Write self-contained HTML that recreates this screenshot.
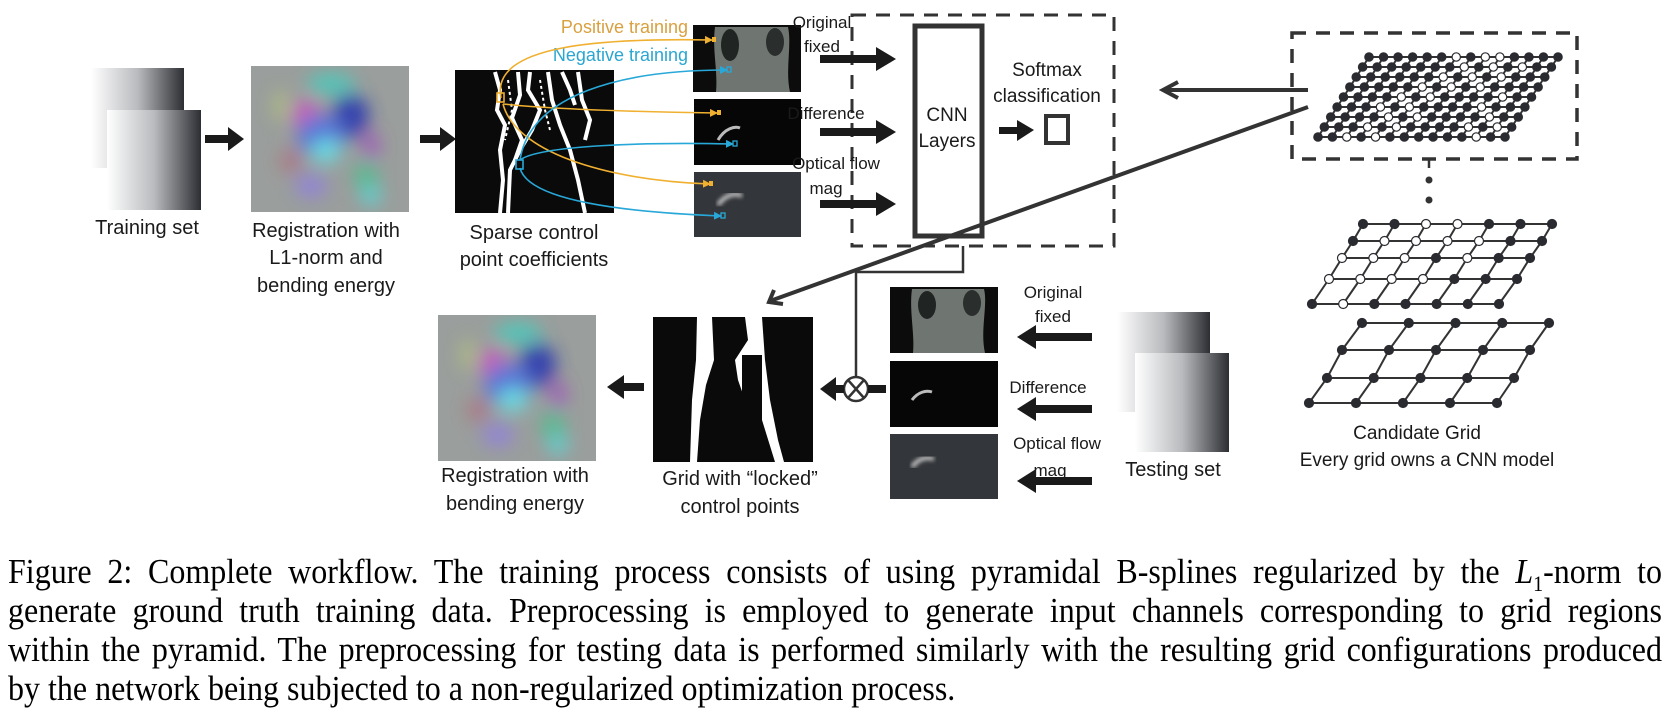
<!DOCTYPE html>
<html><head><meta charset="utf-8">
<style>
html,body{margin:0;padding:0;background:#fff;}
body{width:1672px;height:704px;position:relative;overflow:hidden;}
svg{position:absolute;left:0;top:0;}
.cap{position:absolute;left:8px;width:1654px;font-family:"Liberation Serif",serif;font-size:32px;color:#000;white-space:nowrap;text-align:justify;text-align-last:justify;transform:scaleY(1.1);transform-origin:left center;line-height:38px;height:38px;}
.cap.last{text-align-last:left;}
</style></head><body>
<svg width="1672" height="704" viewBox="0 0 1672 704" xmlns="http://www.w3.org/2000/svg" font-family="Liberation Sans, sans-serif">
<defs>
<linearGradient id="card" x1="0" x2="1" y1="0" y2="0">
<stop offset="0" stop-color="#ffffff"/><stop offset="0.5" stop-color="#b9bbbe"/><stop offset="1" stop-color="#2c2e33"/></linearGradient>
<filter id="blur" x="-20%" y="-20%" width="140%" height="140%"><feGaussianBlur stdDeviation="9"/></filter>
<filter id="blur2"><feGaussianBlur stdDeviation="2"/></filter>
<clipPath id="rc"><rect width="158" height="146"/></clipPath>
<marker id="mo" markerWidth="8" markerHeight="8" refX="7" refY="4" orient="auto" markerUnits="userSpaceOnUse"><path d="M0,0 L8,4 L0,8 Z" fill="#f0b030"/></marker>
<marker id="mc" markerWidth="8" markerHeight="8" refX="7" refY="4" orient="auto" markerUnits="userSpaceOnUse"><path d="M0,0 L8,4 L0,8 Z" fill="#28a8d8"/></marker>
<g id="regimg" clip-path="url(#rc)">
<rect width="158" height="146" fill="#9a9e9c"/>
<g filter="url(#blur)" opacity="0.85">
<ellipse cx="80" cy="18" rx="24" ry="10" fill="#40d0c0"/>
<ellipse cx="55" cy="50" rx="14" ry="16" fill="#d050c0"/>
<ellipse cx="100" cy="50" rx="18" ry="22" fill="#2030b0"/>
<ellipse cx="70" cy="70" rx="24" ry="22" fill="#5070e0"/>
<ellipse cx="75" cy="85" rx="14" ry="12" fill="#60e8f0"/>
<ellipse cx="120" cy="80" rx="8" ry="15" fill="#a050c0"/>
<ellipse cx="40" cy="95" rx="10" ry="12" fill="#b07080"/>
<ellipse cx="115" cy="110" rx="12" ry="15" fill="#50c090"/>
<ellipse cx="60" cy="120" rx="16" ry="12" fill="#9080e0"/>
<ellipse cx="120" cy="130" rx="10" ry="9" fill="#50e0e0"/>
<ellipse cx="30" cy="40" rx="8" ry="16" fill="#b0c080"/>
</g></g>
</defs>

<rect x="91" y="68" width="93" height="100" fill="url(#card)"/>
<rect x="107" y="110" width="94" height="100" fill="url(#card)"/>
<g fill="#1a1a1a">
<rect x="205" y="135" width="25" height="8"/><path d="M228,127 L244,139 L228,151 Z"/>
<rect x="420" y="135" width="22" height="8"/><path d="M440,127 L456,139 L440,151 Z"/>
</g>
<use href="#regimg" x="251" y="66"/>
<rect x="455" y="70" width="159" height="143" fill="#0a0a0a"/>
<g stroke="#fff" fill="none" stroke-width="4">
<path d="M495,72 L500,90 L497,110 L505,125 L500,150 L503,180 L500,213"/>
<path d="M518,72 L520,95 L512,118 L522,140 L515,160"/>
<path d="M530,72 L528,90 L540,110 L532,130 L520,150 L510,170 L508,213"/>
<path d="M548,72 L552,100 L560,125 L570,150 L578,180 L585,213"/>
<path d="M562,72 L570,90 L575,105"/>
<path d="M578,72 L582,100 L590,120 L585,140"/>
</g>
<g stroke="#fff" stroke-width="2" fill="none" stroke-dasharray="3 3">
<path d="M508,80 L512,110 L505,140"/><path d="M540,80 L545,110 L550,130"/>
</g>
<g font-size="20" fill="#1a1a1a" text-anchor="middle">
<text x="147" y="234">Training set</text>
<text x="326" y="237">Registration with</text>
<text x="326" y="264">L1-norm and</text>
<text x="326" y="292">bending energy</text>
<text x="534" y="239">Sparse control</text>
<text x="534" y="266">point coefficients</text>
</g>
<text x="688" y="33" font-size="18" fill="#d9a040" text-anchor="end">Positive training</text>
<text x="688" y="61" font-size="18" fill="#2aa6d0" text-anchor="end">Negative training</text>

<rect x="693" y="25" width="108" height="67" fill="#0c0c0c"/>
<path d="M715,27 C712,50 718,70 716,92 L790,92 C785,70 792,45 788,27 Z" fill="#6f7672"/>
<ellipse cx="730" cy="45" rx="9" ry="16" fill="#202422"/><ellipse cx="775" cy="42" rx="9" ry="14" fill="#2a2e2c"/>
<rect x="694" y="99" width="107" height="66" fill="#060606"/>
<path d="M718,140 C725,128 735,126 740,128" stroke="#bbb" stroke-width="3" fill="none"/>
<rect x="694" y="172" width="107" height="65" fill="#33363a"/>
<path d="M718,205 C725,195 735,192 742,196" stroke="#ccc" stroke-width="4" fill="none" filter="url(#blur2)"/>

<g fill="none" stroke-width="1.6">
<path d="M501,98 C490,45 600,38 712,40" stroke="#f0b030" marker-end="url(#mo)"/>
<path d="M503,104 C560,110 650,112 717,113" stroke="#f0b030" marker-end="url(#mo)"/>
<path d="M503,104 C515,150 600,180 710,184" stroke="#f0b030" marker-end="url(#mo)"/>
<path d="M520,160 C530,95 620,70 727,70" stroke="#28a8d8" marker-end="url(#mc)"/>
<path d="M520,160 C540,145 650,142 733,144" stroke="#28a8d8" marker-end="url(#mc)"/>
<path d="M520,168 C528,200 620,212 721,216" stroke="#28a8d8" marker-end="url(#mc)"/>
</g>
<rect x="497" y="93" width="7" height="9" fill="none" stroke="#f0b030" stroke-width="1.6"/>
<rect x="516" y="160" width="7" height="9" fill="none" stroke="#28a8d8" stroke-width="1.6"/>
<g fill="#f0b030"><rect x="712" y="37" width="4" height="5"/><rect x="717" y="110" width="4" height="5"/><rect x="709" y="181" width="4" height="5"/></g>
<g fill="none" stroke="#28a8d8" stroke-width="1.3"><rect x="727" y="67" width="4" height="5"/><rect x="733" y="141" width="4" height="5"/><rect x="721" y="213" width="4" height="5"/></g>

<rect x="852" y="15" width="262" height="231" fill="none" stroke="#333" stroke-width="3" stroke-dasharray="14 10"/>
<g font-size="17" fill="#1a1a1a" text-anchor="middle">
<text x="822" y="28">Original</text>
<text x="822" y="52">fixed</text>
<text x="826" y="119">Difference</text>
<text x="836" y="169">Optical flow</text>
<text x="826" y="194">mag</text>
</g>
<g fill="#1a1a1a">
<rect x="820" y="55" width="58" height="8"/><path d="M876,47 L896,59 L876,71 Z"/>
<rect x="820" y="128" width="58" height="8"/><path d="M876,120 L896,132 L876,144 Z"/>
<rect x="820" y="200" width="58" height="8"/><path d="M876,192 L896,204 L876,216 Z"/>
</g>
<rect x="915" y="26" width="67" height="210" fill="none" stroke="#333" stroke-width="5"/>
<g font-size="19" fill="#1a1a1a" text-anchor="middle">
<text x="947" y="121">CNN</text><text x="947" y="147">Layers</text>
<text x="1047" y="76">Softmax</text><text x="1047" y="102">classification</text>
</g>
<rect x="999" y="127" width="20" height="7" fill="#1a1a1a"/><path d="M1017,120 L1034,130 L1017,141 Z" fill="#1a1a1a"/>
<rect x="1046" y="116" width="22" height="27" fill="none" stroke="#333" stroke-width="4"/>

<g stroke="#333" stroke-width="4" fill="none">
<line x1="1308" y1="90" x2="1164" y2="90"/>
<path d="M1178,82 L1163,90 L1178,98"/>
<line x1="1308" y1="107" x2="770" y2="301"/>
<path d="M774,290 L769,302 L783,304"/>
</g>

<g stroke="#333" stroke-width="2.5" fill="none">
<polyline points="963,246 963,272 856,272 856,377"/>
<circle cx="856" cy="389" r="12" fill="#fff"/>
<line x1="848" y1="380" x2="864" y2="398"/><line x1="864" y1="380" x2="848" y2="398"/>
</g>
<rect x="868" y="385" width="18" height="8" fill="#1a1a1a"/>
<rect x="832" y="385" width="12" height="8" fill="#1a1a1a"/><path d="M836,377 L820,389 L836,401 Z" fill="#1a1a1a"/>
<use href="#regimg" x="438" y="315"/>
<rect x="622" y="383" width="22" height="8" fill="#1a1a1a"/><path d="M624,375 L607,387 L624,399 Z" fill="#1a1a1a"/>
<rect x="653" y="317" width="160" height="145" fill="#0a0a0a"/>
<g fill="#fff">
<path d="M697,317 L712,317 L714,360 L706,385 L700,420 L697,462 L690,462 L692,400 L696,360 Z"/>
<path d="M745,317 L762,317 L765,360 L770,400 L778,440 L784,462 L775,462 L762,420 L745,400 L738,380 L735,360 L748,340 Z"/>
</g>
<g fill="#0a0a0a"><rect x="742" y="355" width="20" height="107"/></g>
<path d="M715,400 C730,395 735,380 738,380 L745,462 L715,462 Z" fill="#0a0a0a"/>
<g font-size="20" fill="#1a1a1a" text-anchor="middle">
<text x="515" y="482">Registration with</text><text x="515" y="510">bending energy</text>
<text x="740" y="485">Grid with “locked”</text><text x="740" y="513">control points</text>
</g>
<rect x="890" y="287" width="108" height="66" fill="#0c0c0c"/>
<path d="M912,289 C909,310 915,335 913,353 L985,353 C980,330 988,305 984,289 Z" fill="#6f7672"/>
<ellipse cx="927" cy="305" rx="9" ry="14" fill="#202422"/><ellipse cx="972" cy="303" rx="9" ry="13" fill="#2a2e2c"/>
<rect x="890" y="361" width="108" height="66" fill="#060606"/>
<path d="M912,400 C918,392 926,390 932,392" stroke="#bbb" stroke-width="3" fill="none"/>
<rect x="890" y="434" width="108" height="65" fill="#33363a"/>
<path d="M912,467 C918,459 926,456 934,459" stroke="#ccc" stroke-width="4" fill="none" filter="url(#blur2)"/>
<g font-size="17" fill="#1a1a1a" text-anchor="middle">
<text x="1053" y="298">Original</text><text x="1053" y="322">fixed</text>
<text x="1048" y="393">Difference</text>
<text x="1057" y="449">Optical flow</text><text x="1050" y="476">mag</text>
</g>
<g fill="#1a1a1a">
<rect x="1032" y="333" width="60" height="8"/><path d="M1036,325 L1017,337 L1036,349 Z"/>
<rect x="1032" y="405" width="60" height="8"/><path d="M1036,397 L1017,409 L1036,421 Z"/>
<rect x="1032" y="477" width="60" height="8"/><path d="M1036,469 L1017,481 L1036,493 Z"/>
</g>
<rect x="1117" y="312" width="93" height="100" fill="url(#card)"/>
<rect x="1135" y="353" width="94" height="99" fill="url(#card)"/>
<text x="1173" y="476" font-size="20" fill="#1a1a1a" text-anchor="middle">Testing set</text>

<rect x="1292" y="33" width="285" height="126" fill="none" stroke="#333" stroke-width="3.5" stroke-dasharray="14 10"/>
<g stroke="#333" stroke-width="2.5"><line x1="1429" y1="160" x2="1429" y2="168"/></g>
<circle cx="1429" cy="180" r="3.5" fill="#333"/><circle cx="1429" cy="200" r="3.5" fill="#333"/>
<g id="grids"></g>
<g font-size="19" fill="#1a1a1a" text-anchor="middle">
<text x="1417" y="439">Candidate Grid</text>
<text x="1427" y="466">Every grid owns a CNN model</text>
</g>
</svg>
<div class="cap" style="top:552px">Figure 2: Complete workflow. The training process consists of using pyramidal B-splines regularized by the <i>L</i><sub style="font-size:20px">1</sub>-norm to</div>
<div class="cap" style="top:591px">generate ground truth training data. Preprocessing is employed to generate input channels corresponding to grid regions</div>
<div class="cap" style="top:630px">within the pyramid. The preprocessing for testing data is performed similarly with the resulting grid configurations produced</div>
<div class="cap last" style="top:669px">by the network being subjected to a non-regularized optimization process.</div>
<script>
(function(){
var NS="http://www.w3.org/2000/svg",g=document.getElementById("grids");
function el(t,a){var e=document.createElementNS(NS,t);for(var k in a)e.setAttribute(k,a[k]);g.appendChild(e);return e;}
function grid(rows,cols,ys,lx,rx,pat,r,sw){
 var P=[];
 for(var i=0;i<rows;i++){P[i]=[];for(var j=0;j<cols;j++){P[i][j]=[lx[i]+(rx[i]-lx[i])*j/(cols-1),ys[i]];}}
 for(var i=0;i<rows;i++)el("line",{x1:P[i][0][0],y1:ys[i],x2:P[i][cols-1][0],y2:ys[i],stroke:"#333","stroke-width":sw});
 for(var j=0;j<cols;j++)for(var i=0;i<rows-1;i++)el("line",{x1:P[i][j][0],y1:P[i][j][1],x2:P[i+1][j][0],y2:P[i+1][j][1],stroke:"#333","stroke-width":sw});
 for(var i=0;i<rows;i++)for(var j=0;j<cols;j++){var o=pat(i,j);el("circle",{cx:P[i][j][0],cy:P[i][j][1],r:r,fill:o?"#fff":"#2a2b30",stroke:"#2a2b30","stroke-width":1.2});}
}
function lin(a,b,n){var r=[];for(var i=0;i<n;i++)r.push(a+(b-a)*i/(n-1));return r;}
grid(9,14,lin(57,137,9),lin(1369,1318,9),lin(1558,1505,9),function(i,j){var d=j-(8-i)*0.6;return (d>1&&d<5&&(i+j)%2==0)||(j>8&&j<12&&i<6&&(i+j)%3==0)||(i>=6&&j>9&&j<13&&(i+j)%2==1);},4.2,2);
var p2=["FFOOFFF","FOOOOFF","OOOFOFF","OOOOFFF","FOFFFFF"];
grid(5,7,[224,241,258,279,304],[1363,1353,1342,1329,1312],[1552,1542,1530,1517,1499],function(i,j){return p2[i][j]=="O";},4.5,2);
grid(4,5,[323,350,378,403],[1362,1342,1327,1309],[1549,1530,1514,1497],function(){return false;},4.5,2);
})();
</script>
</body></html>
